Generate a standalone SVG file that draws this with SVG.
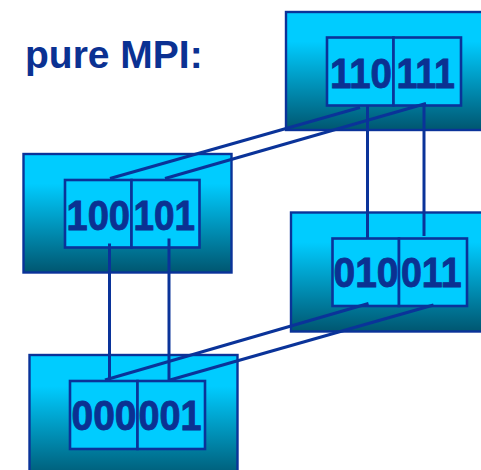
<svg xmlns="http://www.w3.org/2000/svg" width="481" height="470" viewBox="0 0 481 470">
  <defs>
    <linearGradient id="nodeShade" x1="0" y1="0" x2="0" y2="1">
      <stop offset="0" stop-color="#00CCFF"/>
      <stop offset="0.25" stop-color="#00CCFF"/>
      <stop offset="1" stop-color="#005670"/>
    </linearGradient>
  </defs>
  <style>
    .outer { fill: url(#nodeShade); stroke: #0A3399; stroke-width: 2.4; }
    .cell { fill: #00CCFF; stroke: #0A3399; stroke-width: 2.6; }
    .num { font-family: "Liberation Sans", Arial, sans-serif; font-weight: bold; font-size: 43px; fill: #0B3192; stroke: #0B3192; stroke-width: 0.9; }
    .title { font-family: "Liberation Sans", Arial, sans-serif; font-weight: bold; font-size: 39px; fill: #0B3192; }
    .link { stroke: #0A3399; stroke-width: 3; fill: none; }
  </style>

  <rect width="481" height="470" fill="#FFFFFF"/>

  <text class="title" x="25" y="68">pure MPI:</text>

  <!-- node 11x -->
  <g id="node-11">
    <rect class="outer" x="286" y="12" width="200" height="118"/>
    <rect class="cell" x="327" y="37.5" width="66.5" height="68"/>
    <rect class="cell" x="393.5" y="37.5" width="67.5" height="68"/>
    <text class="num" x="330" y="87.5" textLength="62" lengthAdjust="spacingAndGlyphs">110</text>
    <text class="num" x="396.5" y="87.5" textLength="58.5" lengthAdjust="spacingAndGlyphs">111</text>
  </g>

  <!-- node 10x -->
  <g id="node-10">
    <rect class="outer" x="23.5" y="154" width="208" height="118.5"/>
    <rect class="cell" x="65" y="180" width="66.5" height="67.5"/>
    <rect class="cell" x="131.5" y="180" width="68" height="67.5"/>
    <text class="num" x="66.5" y="229.5" textLength="63.5" lengthAdjust="spacingAndGlyphs">100</text>
    <text class="num" x="133.5" y="229.5" textLength="61.5" lengthAdjust="spacingAndGlyphs">101</text>
  </g>

  <!-- node 01x -->
  <g id="node-01">
    <rect class="outer" x="291" y="212.5" width="195" height="119"/>
    <rect class="cell" x="332.5" y="238.5" width="66.5" height="67.5"/>
    <rect class="cell" x="399" y="238.5" width="68" height="67.5"/>
    <text class="num" x="333.5" y="287" textLength="65" lengthAdjust="spacingAndGlyphs">010</text>
    <text class="num" x="401" y="287" textLength="60.5" lengthAdjust="spacingAndGlyphs">011</text>
  </g>

  <!-- node 00x -->
  <g id="node-00">
    <rect class="outer" x="29.5" y="355" width="208" height="125"/>
    <rect class="cell" x="70" y="381" width="67.5" height="68"/>
    <rect class="cell" x="137.5" y="381" width="67.5" height="68"/>
    <text class="num" x="71.5" y="430" textLength="65" lengthAdjust="spacingAndGlyphs">000</text>
    <text class="num" x="138.5" y="430" textLength="63" lengthAdjust="spacingAndGlyphs">001</text>
  </g>

  <!-- links between processes -->
  <g id="connectors">
    <line class="link" x1="360" y1="107.5" x2="110" y2="178.5"/>
    <line class="link" x1="426" y1="103.5" x2="165" y2="178.5"/>
    <line class="link" x1="367.5" y1="105" x2="367.5" y2="238.5"/>
    <line class="link" x1="424" y1="103.5" x2="424" y2="236"/>
    <line class="link" x1="109.5" y1="243.5" x2="109.5" y2="380"/>
    <line class="link" x1="169" y1="238.5" x2="169" y2="380"/>
    <line class="link" x1="368.5" y1="303.5" x2="105" y2="380"/>
    <line class="link" x1="433.5" y1="305" x2="170" y2="380"/>
  </g>
</svg>
